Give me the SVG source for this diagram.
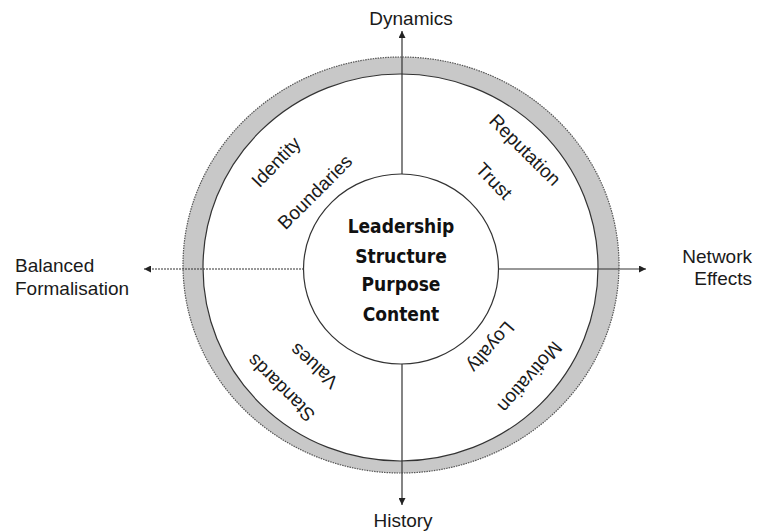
<svg xmlns="http://www.w3.org/2000/svg" width="757" height="531" viewBox="0 0 757 531">
  <style>
    .lbl { font-family: "Liberation Sans", Arial, sans-serif; font-size: 19px; fill: #1a1a1a; }
    .core { font-family: "DejaVu Sans Condensed", "DejaVu Sans", Verdana, sans-serif; font-stretch: condensed; font-size: 19px; font-weight: bold; fill: #111; text-anchor: middle; }
    .axis { stroke: #333; stroke-width: 1.2; fill: none; }
    .dots { stroke-dasharray: 2 1; }
  </style>
  <defs>
    <marker id="head" viewBox="0 0 10 10" refX="10" refY="5" markerWidth="8" markerHeight="7" markerUnits="userSpaceOnUse" orient="auto">
      <path d="M0,0 L10,5 L0,10 z" fill="#222"/>
    </marker>
  </defs>

  <rect width="757" height="531" fill="#fff"/>

  <!-- outer ring -->
  <g id="ring">
    <path d="M183,265 a218,208 0 1,0 436,0 a218,208 0 1,0 -436,0 z M203,267.5 a197.5,193.5 0 1,1 395,0 a197.5,193.5 0 1,1 -395,0 z" fill="#c8c8c8" fill-rule="evenodd"/>
    <ellipse cx="401" cy="265" rx="218" ry="208" fill="none" stroke="#555" stroke-width="1.2" stroke-dasharray="1.5 1"/>
    <ellipse cx="400.5" cy="267.5" rx="197.5" ry="193.5" fill="none" stroke="#333" stroke-width="1.2"/>
  </g>

  <!-- axis connectors -->
  <g id="connectors">
    <line class="axis" x1="402" y1="174" x2="402" y2="31" marker-end="url(#head)"/>
    <line class="axis" x1="402" y1="364" x2="402" y2="505" marker-end="url(#head)"/>
    <line class="axis" x1="498" y1="269" x2="646" y2="269" marker-end="url(#head)"/>
    <line class="axis dots" x1="304" y1="269" x2="144" y2="269" marker-end="url(#head)"/>
  </g>

  <!-- core circle -->
  <g id="core">
    <ellipse cx="401" cy="269" rx="97.5" ry="95" fill="#fff" stroke="#333" stroke-width="1.2"/>
    <text class="core" x="401" y="233">Leadership</text>
    <text class="core" x="401" y="262.5">Structure</text>
    <text class="core" x="401" y="291">Purpose</text>
    <text class="core" x="401" y="320.5">Content</text>
  </g>

  <!-- axis labels -->
  <g id="dynamics"><text class="lbl" x="411" y="25" text-anchor="middle">Dynamics</text></g>
  <g id="history"><text class="lbl" x="403" y="527" text-anchor="middle">History</text></g>
  <g id="network-effects">
    <text class="lbl" x="752" y="263" text-anchor="end">Network</text>
    <text class="lbl" x="752" y="285" text-anchor="end">Effects</text>
  </g>
  <g id="balanced-formalisation">
    <text class="lbl" x="15" y="272">Balanced</text>
    <text class="lbl" x="15" y="295">Formalisation</text>
  </g>

  <!-- ring labels -->
  <g id="identity"><text class="lbl" text-anchor="middle" transform="translate(276,162) rotate(-46)" y="6.5">Identity</text></g>
  <g id="boundaries"><text class="lbl" text-anchor="middle" transform="translate(315,192) rotate(-45)" y="6.5">Boundaries</text></g>
  <g id="reputation"><text class="lbl" text-anchor="middle" transform="translate(525,150) rotate(45)" y="6.5">Reputation</text></g>
  <g id="trust"><text class="lbl" text-anchor="middle" transform="translate(494,181) rotate(46)" y="6.5">Trust</text></g>
  <g id="values"><text class="lbl" text-anchor="middle" transform="translate(314,366) rotate(222)" y="6.5">Values</text></g>
  <g id="standards"><text class="lbl" text-anchor="middle" transform="translate(281,388) rotate(225)" y="6.5">Standards</text></g>
  <g id="loyalty"><text class="lbl" text-anchor="middle" transform="translate(491,347) rotate(131)" y="6.5">Loyalty</text></g>
  <g id="motivation"><text class="lbl" text-anchor="middle" transform="translate(530,377) rotate(131)" y="6.5">Motivation</text></g>
</svg>
